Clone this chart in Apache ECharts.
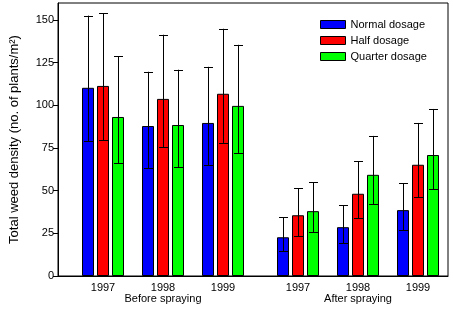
<!DOCTYPE html>
<html>
<head>
<meta charset="utf-8">
<script src="https://cdn.jsdelivr.net/npm/echarts@6/dist/echarts.min.js"></script>
<style>html,body{margin:0;padding:0;background:#fff}#c{width:453px;height:309px}</style>
</head>
<body>
<div id="c"></div>
<script>
// ---- data ----
var years = ['1997', '1998', '1999'];
var phases = ['Before spraying', 'After spraying'];
var seriesNames = ['Normal dosage', 'Half dosage', 'Quarter dosage'];
// values listed: before 1997,1998,1999, after 1997,1998,1999
var normalMean  = [110.3, 87.9, 89.7, 22.7, 28.6, 38.6];
var normalHigh  = [152.6, 119.7, 122.6, 34.5, 41.5, 54.5];
var normalLow   = [79.1, 63.3, 65.0, 14.5, 19.2, 26.8];
var halfMean    = [111.4, 103.8, 106.8, 35.6, 48.2, 65.2];
var halfHigh    = [154.1, 141.4, 144.9, 51.3, 67.4, 89.7];
var halfLow     = [79.7, 75.6, 78.0, 23.3, 33.7, 46.2];
var quarterMean = [93.2, 88.5, 99.7, 38.0, 59.3, 70.9];
var quarterHigh = [128.9, 120.9, 135.5, 55.0, 82.1, 97.9];
var quarterLow  = [66.2, 63.9, 72.1, 25.7, 42.1, 50.9];
var yTicks = [0, 25, 50, 75, 100, 125, 150];

// ---- layout helpers ----
var PHASE_GAP = 0.25;
function groupPos(i) {
  var p = Math.floor(i / years.length), y = i % years.length;
  return 1 + p * (years.length + PHASE_GAP) + y;
}
var positions = normalMean.map(function (_, i) { return groupPos(i); });
function groupLabel(v) {
  for (var i = 0; i < positions.length; i++) {
    if (Math.abs(positions[i] - v) < 1e-6) {
      var y = i % years.length, p = Math.floor(i / years.length);
      return y === 1 ? years[y] + '\n' + phases[p] : years[y];
    }
  }
  return '';
}

var colors = ['#0000ff', '#ff0000', '#00ff00'];
var means = [normalMean, halfMean, quarterMean];
var highs = [normalHigh, halfHigh, quarterHigh];
var lows = [normalLow, halfLow, quarterLow];
var BAR_W = 12, BAR_GAP = 3, CAP = 9;
var FONT = '"Liberation Sans", Arial, sans-serif';

var series = [];
means.forEach(function (m, s) {
  series.push({
    name: seriesNames[s],
    type: 'bar',
    barWidth: BAR_W,
    barGap: (BAR_GAP / BAR_W * 100) + '%',
    itemStyle: { color: colors[s], borderColor: '#000', borderWidth: 1 },
    data: m.map(function (v, i) { return [positions[i], v]; }),
    z: 2
  });
});
means.forEach(function (m, s) {
  series.push({
    type: 'custom',
    z: 5,
    silent: true,
    data: m.map(function (v, i) { return [positions[i], lows[s][i], highs[s][i]]; }),
    renderItem: function (params, api) {
      var off = (s - 1) * (BAR_W + BAR_GAP);
      var lo = api.coord([api.value(0), api.value(1)]);
      var hi = api.coord([api.value(0), api.value(2)]);
      var x = Math.round(lo[0] + off) + 0.5;
      var st = { stroke: '#000', lineWidth: 1 };
      return {
        type: 'group',
        children: [
          { type: 'line', shape: { x1: x, y1: lo[1], x2: x, y2: hi[1] }, style: st },
          { type: 'line', shape: { x1: x - CAP / 2, y1: Math.round(hi[1]) + 0.5, x2: x + CAP / 2, y2: Math.round(hi[1]) + 0.5 }, style: st },
          { type: 'line', shape: { x1: x - CAP / 2, y1: Math.round(lo[1]) + 0.5, x2: x + CAP / 2, y2: Math.round(lo[1]) + 0.5 }, style: st }
        ]
      };
    }
  });
});

var chart = echarts.init(document.getElementById('c'), null, { renderer: 'canvas' });
chart.setOption({
  animation: false,
  backgroundColor: '#fff',
  textStyle: { fontFamily: FONT },
  grid: { left: 58, top: 3, width: 390, height: 273, show: true, borderColor: '#000', borderWidth: 1, containLabel: false },
  legend: {
    data: seriesNames,
    orient: 'vertical',
    left: 320, top: 19,
    itemWidth: 25, itemHeight: 8, itemGap: 5,
    icon: 'rect',
    itemStyle: { borderColor: '#000', borderWidth: 1 },
    textStyle: { fontSize: 11, color: '#000', fontFamily: FONT, padding: [0, 0, 0, 0] },
    padding: 0
  },
  xAxis: {
    type: 'value',
    min: 0.25, max: 6.75,
    splitLine: { show: false },
    axisLine: { lineStyle: { color: '#000', width: 1 } },
    axisTick: { show: false },
    axisLabel: {
      customValues: positions,
      formatter: function (v) { return groupLabel(v); },
      color: '#000', fontSize: 11, lineHeight: 11, margin: 6, fontFamily: FONT
    }
  },
  yAxis: {
    type: 'value',
    min: 0, max: 160,
    name: 'Total weed density (no. of plants/m²)',
    nameLocation: 'middle',
    nameGap: 37,
    nameTextStyle: { fontSize: 13, color: '#000', fontFamily: FONT },
    splitLine: { show: false },
    axisLine: { show: true, lineStyle: { color: '#000', width: 1 } },
    axisTick: { show: true, customValues: yTicks, length: 5, lineStyle: { color: '#000' } },
    axisLabel: { customValues: yTicks, color: '#000', fontSize: 11, margin: 4, fontFamily: FONT }
  },
  series: series
});
</script>
</body>
</html>
